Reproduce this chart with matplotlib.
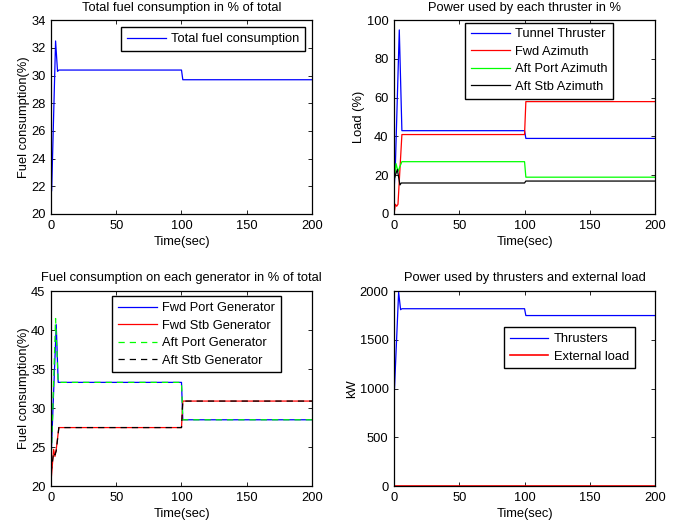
import matplotlib
matplotlib.use("Agg")
import matplotlib.pyplot as plt

plt.rcParams["font.family"] = ["Liberation Sans", "DejaVu Sans"]
plt.rcParams["font.size"] = 9.3

# --- Total fuel consumption (%) ---
t_total = [0, 0.5, 3.5, 5.0, 6.0, 100, 101, 200]
fuel_total = [21.5, 21.7, 32.5, 30.3, 30.4, 30.4, 29.7, 29.7]

# --- Power used by each thruster (%) ---
t_tunnel = [0, 1.0, 4.0, 6.0, 100, 101, 200]
tunnel = [12, 25, 95, 43, 43, 39, 39]
t_fwd_az = [0, 1.0, 2.0, 3.0, 6.0, 100, 101, 200]
fwd_az = [0, 5, 4, 5, 41, 41, 58, 58]
t_aft_port = [0, 1.5, 3.0, 6.0, 100, 101, 200]
aft_port = [16, 26, 22, 27, 27, 19, 19]
t_aft_stb = [0, 2.5, 4.5, 5.5, 100, 101, 200]
aft_stb = [18, 23, 15, 16, 16, 17, 17]

# --- Fuel consumption on each generator (%) ---
t_gen_port = [0, 4.0, 5.5, 100, 101, 200]
fwd_port_gen = [23.4, 40.7, 33.3, 33.3, 28.5, 28.5]
t_gen_aft_port = [0, 3.5, 5.5, 100, 101, 200]
aft_port_gen = [22.6, 41.5, 33.3, 33.3, 28.5, 28.5]
t_gen_stb = [0, 2.0, 3.0, 4.0, 6.0, 100, 101, 200]
fwd_stb_gen = [20.6, 24.7, 23.8, 24.7, 27.5, 27.5, 30.9, 30.9]
aft_stb_gen = [21.7, 24.3, 24.0, 24.5, 27.5, 27.5, 30.9, 30.9]

# --- Power used by thrusters and external load (kW) ---
t_thr = [0, 3.5, 5.0, 6.0, 100, 101, 200]
thrusters = [900, 1990, 1810, 1820, 1820, 1750, 1750]
t_ext = [0, 200]
external = [0, 0]


def style(ax, ylabel):
    ax.tick_params(direction="in", top=True, right=True, length=3, width=0.6, pad=4)
    for sp in ax.spines.values():
        sp.set_linewidth(0.9)
    ax.set_xlim(0, 200)
    ax.set_xticks([0, 50, 100, 150, 200])
    ax.set_xlabel("Time(sec)", labelpad=3)
    ax.set_ylabel(ylabel, labelpad=1)


def legend(ax, anchor):
    leg = ax.legend(loc="upper left", bbox_to_anchor=anchor, borderaxespad=0,
                    fancybox=False, edgecolor="black", framealpha=1,
                    handlelength=3.0, handletextpad=0.4, labelspacing=0.42,
                    borderpad=0.45)
    leg.get_frame().set_linewidth(1.0)
    return leg


fig = plt.figure(figsize=(6.95, 5.28), dpi=100)
ax1 = fig.add_axes([0.0734, 0.5947, 0.3755, 0.367])
ax2 = fig.add_axes([0.567, 0.5947, 0.3755, 0.367])
ax3 = fig.add_axes([0.0734, 0.0795, 0.3755, 0.369])
ax4 = fig.add_axes([0.567, 0.0795, 0.3755, 0.369])

lw = 0.9
title_kw = dict(fontsize=9.3, pad=7)

ax1.plot(t_total, fuel_total, color="blue", lw=lw, label="Total fuel consumption")
ax1.set_ylim(20, 34)
ax1.set_yticks(range(20, 35, 2))
ax1.set_title("Total fuel consumption in % of total", **title_kw)
style(ax1, "Fuel consumption(%)")
legend(ax1, (0.268, 0.964))

ax2.plot(t_tunnel, tunnel, color="blue", lw=lw, label="Tunnel Thruster")
ax2.plot(t_fwd_az, fwd_az, color="red", lw=lw, label="Fwd Azimuth")
ax2.plot(t_aft_port, aft_port, color="#00ff00", lw=lw, label="Aft Port Azimuth")
ax2.plot(t_aft_stb, aft_stb, color="black", lw=lw, label="Aft Stb Azimuth")
ax2.set_ylim(0, 100)
ax2.set_yticks(range(0, 101, 20))
ax2.set_title("Power used by each thruster in %", **title_kw)
style(ax2, "Load (%)")
legend(ax2, (0.272, 0.988))

ax3.plot(t_gen_port, fwd_port_gen, color="blue", lw=lw, label="Fwd Port Generator")
ax3.plot(t_gen_stb, fwd_stb_gen, color="red", lw=lw, label="Fwd Stb Generator")
ax3.plot(t_gen_aft_port, aft_port_gen, color="#00ff00", lw=lw, ls=(0, (5, 4)),
         label="Aft Port Generator")
ax3.plot(t_gen_stb, aft_stb_gen, color="black", lw=lw, ls=(0, (5, 4)),
         label="Aft Stb Generator")
ax3.set_ylim(20, 45)
ax3.set_yticks(range(20, 46, 5))
ax3.set_title("Fuel consumption on each generator in % of total", **title_kw)
style(ax3, "Fuel consumption(%)")
legend(ax3, (0.234, 0.974))

ax4.plot(t_thr, thrusters, color="blue", lw=lw, label="Thrusters")
ax4.plot(t_ext, external, color="red", lw=1.2, label="External load")
ax4.set_ylim(0, 2000)
ax4.set_yticks(range(0, 2001, 500))
ax4.set_title("Power used by thrusters and external load", **title_kw)
style(ax4, "kW")
legend(ax4, (0.421, 0.815))

fig.savefig("out.png", dpi=100)
